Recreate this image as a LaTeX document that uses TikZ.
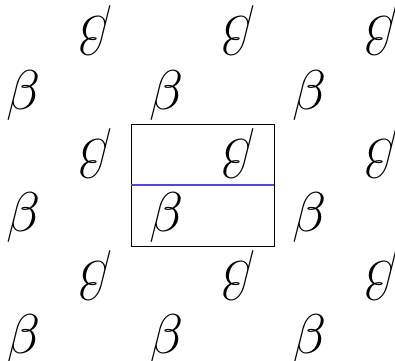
\RequirePackage{fix-cm}
\documentclass[tikz,border=0pt]{standalone}
\usepackage{xcolor}
\usepackage{amsmath}
\definecolor{halfline}{RGB}{70,70,245}

\begin{document}
\begin{tikzpicture}[x=0.75pt,y=0.75pt,yscale=-1,xscale=1,
    glyph/.style={inner sep=0pt, font=\fontsize{42}{50}\selectfont},
    turned/.style={glyph, rotate=180}]
%set diagram left start at 0, and has height of 360
\useasboundingbox (0,0) rectangle (395,360);

%Shape: Rectangle [cell]
\draw [line width=0.75]  (131,124) rectangle (274,246) ;
%Straight Lines [half cell]
\draw [draw=halfline ,line width=0.9]   (131.4,185) -- (273.6,185) ;

% Text Node
\draw (23.5,95) node [glyph] (b11) {$\beta$};
% Text Node
\draw (166.5,95) node [glyph] (b12) {$\beta$};
% Text Node
\draw (309.5,95) node [glyph] (b13) {$\beta$};
% Text Node
\draw (23.5,217) node [glyph] (b21) {$\beta$};
% Text Node
\draw (166.5,217) node [glyph] (b22) {$\beta$};
% Text Node
\draw (309.5,217) node [glyph] (b23) {$\beta$};
% Text Node
\draw (23.5,339) node [glyph] (b31) {$\beta$};
% Text Node
\draw (166.5,339) node [glyph] (b32) {$\beta$};
% Text Node
\draw (309.5,339) node [glyph] (b33) {$\beta$};

% Text Node
\draw (95.5,31) node [turned] (t11) {$\beta$};
% Text Node
\draw (238.5,31) node [turned] (t12) {$\beta$};
% Text Node
\draw (381.5,31) node [turned] (t13) {$\beta$};
% Text Node
\draw (95.5,153) node [turned] (t21) {$\beta$};
% Text Node
\draw (238.5,153) node [turned] (t22) {$\beta$};
% Text Node
\draw (381.5,153) node [turned] (t23) {$\beta$};
% Text Node
\draw (95.5,275) node [turned] (t31) {$\beta$};
% Text Node
\draw (238.5,275) node [turned] (t32) {$\beta$};
% Text Node
\draw (381.5,275) node [turned] (t33) {$\beta$};

\end{tikzpicture}
\end{document}
